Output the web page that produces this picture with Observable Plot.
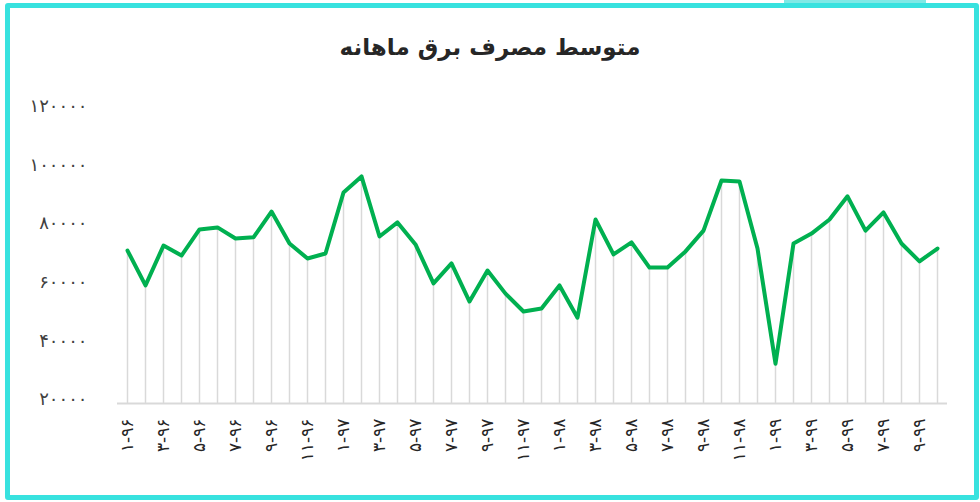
<!DOCTYPE html>
<html>
<head>
<meta charset="utf-8">
<script src="https://cdn.jsdelivr.net/npm/d3@7"></script>
<script src="https://cdn.jsdelivr.net/npm/@observablehq/plot@0.6"></script>
<style>
  html, body { margin: 0; padding: 0; background: #fff; }
  body { width: 980px; height: 502px; position: relative; overflow: hidden; font-family: "DejaVu Sans", sans-serif; }
  #frame { position: absolute; left: 5px; top: 3px; width: 974px; height: 497px; box-sizing: border-box; border: 5px solid #38E2DF; border-radius: 3px; }
  #strip { position: absolute; left: 784px; top: 0px; width: 142px; height: 3px; background: #7FE9E6; }
  #title { position: absolute; left: 0; width: 980px; top: 34px; text-align: center; font-size: 23px; font-weight: bold; color: #262626; direction: rtl; }
  #chart { position: absolute; left: 0; top: 0; }
</style>
</head>
<body>
<div id="strip"></div>
<div id="frame"></div>
<div id="chart"></div>
<div id="title">متوسط مصرف برق ماهانه</div>
<script>
const categories = [
  "۱-۹۶","۲-۹۶","۳-۹۶","۴-۹۶","۵-۹۶","۶-۹۶","۷-۹۶","۸-۹۶","۹-۹۶","۱۰-۹۶","۱۱-۹۶","۱۲-۹۶",
  "۱-۹۷","۲-۹۷","۳-۹۷","۴-۹۷","۵-۹۷","۶-۹۷","۷-۹۷","۸-۹۷","۹-۹۷","۱۰-۹۷","۱۱-۹۷","۱۲-۹۷",
  "۱-۹۸","۲-۹۸","۳-۹۸","۴-۹۸","۵-۹۸","۶-۹۸","۷-۹۸","۸-۹۸","۹-۹۸","۱۰-۹۸","۱۱-۹۸","۱۲-۹۸",
  "۱-۹۹","۲-۹۹","۳-۹۹","۴-۹۹","۵-۹۹","۶-۹۹","۷-۹۹","۸-۹۹","۹-۹۹","۱۰-۹۹"
];
const values = [
  72200, 60300, 73900, 70500, 79400, 80100, 76300, 76700, 85500, 74600, 69500, 71200,
  92000, 97500, 77000, 81800, 74300, 61000, 67800, 54800, 65400, 57500, 51400, 52400,
  60300, 49300, 82800, 70900, 75000, 66400, 66400, 71900, 79000, 96100, 95800, 72900,
  33600, 74600, 78000, 82800, 90700, 79000, 85200, 74600, 68500, 72900
];
const xTickLabels = categories.filter((d, i) => i % 2 === 0);
const yTicks = [20000, 40000, 60000, 80000, 100000, 120000];
const yTickLabels = ["۲۰۰۰۰", "۴۰۰۰۰", "۶۰۰۰۰", "۸۰۰۰۰", "۱۰۰۰۰۰", "۱۲۰۰۰۰"];

const data = categories.map((c, i) => ({month: c, value: values[i]}));

const chart = Plot.plot({
  width: 980,
  height: 502,
  marginLeft: 117,
  marginRight: 33,
  marginTop: 110,
  marginBottom: 99,
  style: {fontFamily: "DejaVu Sans, sans-serif", background: "transparent", color: "#404040"},
  x: {type: "point", domain: categories, padding: 0.5},
  y: {domain: [20000, 120000]},
  marks: [
    Plot.ruleX(data, {x: "month", y1: 20000, y2: "value", stroke: "#D9D9D9", strokeWidth: 1.5}),
    Plot.ruleY([20000], {stroke: "#D9D9D9", strokeWidth: 2}),
    Plot.line(data, {x: "month", y: "value", stroke: "#00B050", strokeWidth: 4, strokeLinejoin: "round", strokeLinecap: "round"}),
    Plot.axisY({ticks: yTicks, tickFormat: d => yTickLabels[yTicks.indexOf(d)], tickSize: 0, tickPadding: 30, dy: -4, fontSize: 18, label: null, fill: "#404040"}),
    Plot.axisX({ticks: xTickLabels, tickSize: 0, tickPadding: 15, tickRotate: -90, fontSize: 17, label: null, fill: "#262626"})
  ]
});
document.getElementById("chart").appendChild(chart);
</script>
</body>
</html>
